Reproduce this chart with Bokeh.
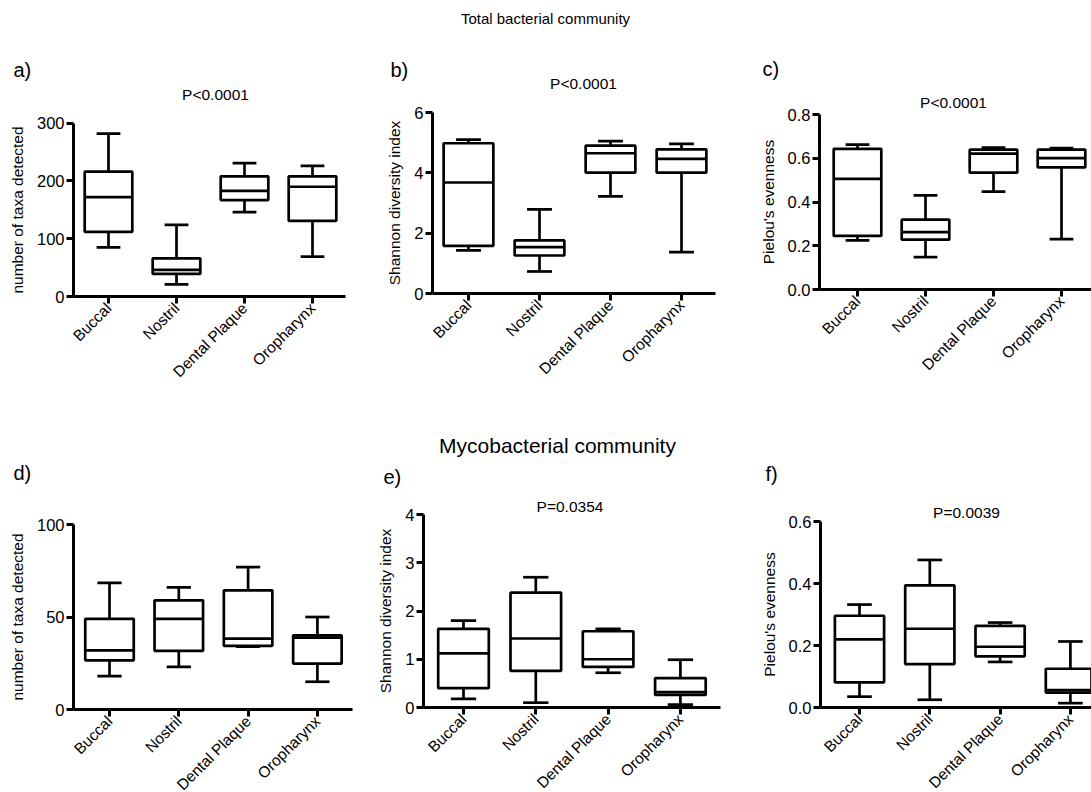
import math
from bokeh.plotting import figure
from bokeh.layouts import column, row
from bokeh.models import Range1d, FixedTicker, Label, NumeralTickFormatter
from bokeh.embed import file_html
from bokeh.resources import INLINE

categories = ["Buccal", "Nostril", "Dental Plaque", "Oropharynx"]

# a) Total bacterial community - number of taxa detected
a_min = [85, 21, 146, 69]
a_q1 = [112, 39, 167, 131]
a_med = [172, 46, 183, 190]
a_q3 = [216, 66, 208, 208]
a_max = [282, 124, 231, 226]

# b) Total bacterial community - Shannon diversity index
b_min = [1.43, 0.73, 3.22, 1.37]
b_q1 = [1.58, 1.26, 4.01, 4.01]
b_med = [3.68, 1.54, 4.65, 4.46]
b_q3 = [4.98, 1.76, 4.90, 4.78]
b_max = [5.10, 2.79, 5.05, 4.96]

# c) Total bacterial community - Pielou's evenness
c_min = [0.225, 0.148, 0.447, 0.230]
c_q1 = [0.245, 0.228, 0.534, 0.558]
c_med = [0.506, 0.262, 0.621, 0.601]
c_q3 = [0.643, 0.319, 0.639, 0.639]
c_max = [0.662, 0.430, 0.649, 0.646]

# d) Mycobacterial community - number of taxa detected
d_min = [18, 23, 34, 15]
d_q1 = [26.6, 31.7, 34.4, 24.8]
d_med = [32, 49, 38.3, 38.8]
d_q3 = [49, 59, 64.4, 40.1]
d_max = [68.5, 66, 77, 50]

# e) Mycobacterial community - Shannon diversity index
e_min = [0.18, 0.10, 0.72, 0.06]
e_q1 = [0.40, 0.76, 0.84, 0.26]
e_med = [1.12, 1.43, 1.00, 0.32]
e_q3 = [1.63, 2.38, 1.58, 0.61]
e_max = [1.80, 2.70, 1.63, 0.99]

# f) Mycobacterial community - Pielou's evenness
f_min = [0.035, 0.025, 0.147, 0.014]
f_q1 = [0.081, 0.140, 0.165, 0.048]
f_med = [0.220, 0.254, 0.196, 0.056]
f_q3 = [0.296, 0.394, 0.263, 0.125]
f_max = [0.332, 0.476, 0.274, 0.213]

a_ticks = [0, 100, 200, 300]
b_ticks = [0, 2, 4, 6]
c_ticks = [0.0, 0.2, 0.4, 0.6, 0.8]
d_ticks = [0, 50, 100]
e_ticks = [0, 1, 2, 3, 4]
f_ticks = [0.0, 0.2, 0.4, 0.6]

FONT = "Liberation Sans"
LW = 2.7


def label(p, text, sx, sy, size, align="center"):
    p.add_layout(Label(x=sx, y=sy, x_units="screen", y_units="screen", text=text,
                       text_font=FONT, text_font_size=size, text_color="black",
                       text_align=align, text_baseline="middle"))


def panel(box, axis, yticks, ylabel, mn, q1, med, q3, mx, fmt=None):
    # box: figure pixel box (x0, x1, y0, y1) on the page
    # axis: (y-axis px, x-axis px, top tick px, first category px, category spacing px, x-axis end px)
    fx0, fx1, fy0, fy1 = box
    ax_x, ax_y, ax_top, cat0, sp, ax_end = axis
    ytop = yticks[-1]
    upp = ytop / (ax_y - ax_top)

    def xd(px):
        return (px - cat0) / sp

    def yd(py):
        return (ax_y - py) * upp

    p = figure(width=fx1 - fx0, height=fy1 - fy0,
               x_range=Range1d(xd(fx0), xd(fx1)), y_range=Range1d(yd(fy1), yd(fy0)),
               output_backend="svg", toolbar_location=None,
               min_border=0, min_border_left=0, min_border_right=0,
               min_border_top=0, min_border_bottom=0)
    p.outline_line_color = None
    p.xgrid.visible = False
    p.ygrid.visible = False
    p.background_fill_color = "white"
    p.border_fill_color = "white"
    idx = list(range(len(categories)))
    half = 0.35
    cap = 0.175
    kw = dict(line_color="black", line_width=LW)
    p.segment(x0=idx, y0=q3, x1=idx, y1=mx, **kw)
    p.segment(x0=idx, y0=q1, x1=idx, y1=mn, **kw)
    p.segment(x0=[i - cap for i in idx], y0=mx, x1=[i + cap for i in idx], y1=mx, **kw)
    p.segment(x0=[i - cap for i in idx], y0=mn, x1=[i + cap for i in idx], y1=mn, **kw)
    p.vbar(x=idx, width=2 * half, bottom=q1, top=q3, fill_color="white", **kw)
    p.segment(x0=[i - half for i in idx], y0=med, x1=[i + half for i in idx], y1=med, **kw)

    for ax in (p.xaxis[0], p.yaxis[0]):
        ax.axis_line_width = 3
        ax.axis_line_color = "black"
        ax.major_tick_line_width = 3
        ax.major_tick_line_color = "black"
        ax.major_tick_out = 7
        ax.major_tick_in = 0
        ax.minor_tick_line_color = None
        ax.major_label_text_font = FONT
        ax.major_label_text_color = "black"
        ax.major_label_standoff = 2
    xa = p.xaxis[0]
    ya = p.yaxis[0]
    xa.fixed_location = 0
    xa.bounds = (xd(ax_x), xd(ax_end))
    ya.fixed_location = xd(ax_x)
    ya.bounds = (0, ytop)
    xa.ticker = FixedTicker(ticks=idx)
    xa.major_label_overrides = {i: c for i, c in enumerate(categories)}
    xa.major_label_orientation = math.pi / 4
    xa.major_label_text_font_size = "15.5px"
    ya.ticker = FixedTicker(ticks=yticks)
    ya.major_label_text_font_size = "16.5px"
    if fmt:
        ya.formatter = NumeralTickFormatter(format=fmt)
    ya.axis_label = ylabel
    ya.axis_label_text_font = FONT
    ya.axis_label_text_font_style = "normal"
    ya.axis_label_text_font_size = "15.5px"
    ya.axis_label_text_color = "black"
    ya.axis_label_standoff = 8
    return p


pa = panel((0, 370, 0, 400), (73, 296, 122.7, 108, 68, 345), a_ticks, "number of taxa detected",
           a_min, a_q1, a_med, a_q3, a_max)
label(pa, "a)", 13, 331, "20px", "left")
label(pa, "P<0.0001", 215, 306, "15.5px")

pb = panel((370, 735, 0, 400), (432, 293, 112, 468, 71, 715), b_ticks, "Shannon diversity index",
           b_min, b_q1, b_med, b_q3, b_max)
label(pb, "b)", 20, 331, "20px", "left")
label(pb, "P<0.0001", 213, 317, "15.5px")
label(pb, "Total bacterial community", 175, 382, "15px")

pc = panel((735, 1091, 0, 400), (819, 289, 114, 857, 68, 1091), c_ticks, "Pielou's evenness",
           c_min, c_q1, c_med, c_q3, c_max, fmt="0.0")
label(pc, "c)", 27, 332, "20px", "left")
label(pc, "P<0.0001", 218, 298, "15.5px")

pd = panel((0, 370, 400, 792), (73, 709, 524, 109, 69.3, 352), d_ticks, "number of taxa detected",
           d_min, d_q1, d_med, d_q3, d_max)
label(pd, "d)", 13, 320, "20px", "left")

pe = panel((370, 735, 400, 792), (423, 707, 514, 463, 72.3, 720), e_ticks, "Shannon diversity index",
           e_min, e_q1, e_med, e_q3, e_max)
label(pe, "e)", 13, 316, "20px", "left")
label(pe, "P=0.0354", 199.5, 286, "15.5px")
label(pe, "Mycobacterial community", 187, 347, "21px")

pf = panel((735, 1091, 400, 792), (820, 707, 521, 859, 70.3, 1091), f_ticks, "Pielou's evenness",
           f_min, f_q1, f_med, f_q3, f_max, fmt="0.0")
label(pf, "f)", 30, 319, "20px", "left")
label(pf, "P=0.0039", 231, 280, "15.5px")

layout = column(row(pa, pb, pc), row(pd, pe, pf))

open("out.html", "w").write(file_html(layout, INLINE))
